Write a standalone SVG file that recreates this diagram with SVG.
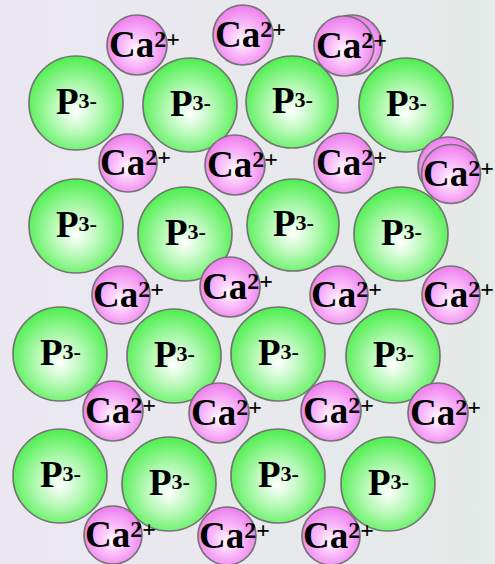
<svg xmlns="http://www.w3.org/2000/svg" width="495" height="564" viewBox="0 0 495 564">
<defs>
<linearGradient id="bg" x1="0" y1="0" x2="1" y2="0">
<stop offset="0" stop-color="#ebe7f1"/>
<stop offset="1" stop-color="#e4eae8"/>
</linearGradient>
<radialGradient id="gP" cx="0.5" cy="0.55" r="0.55" fx="0.5" fy="0.6">
<stop offset="0" stop-color="#ffffff"/>
<stop offset="0.45" stop-color="#b6f9b6"/>
<stop offset="1" stop-color="#4def4d"/>
</radialGradient>
<radialGradient id="gC" cx="0.5" cy="0.55" r="0.55" fx="0.5" fy="0.6">
<stop offset="0" stop-color="#ffffff"/>
<stop offset="0.4" stop-color="#fbc4fb"/>
<stop offset="1" stop-color="#ee7cee"/>
</radialGradient>
</defs>
<style>
.p circle{fill:url(#gP);stroke:#747474;stroke-width:1.7}
.c circle{fill:url(#gC);stroke:#747474;stroke-width:1.7}
text{font-family:"Liberation Serif","Times New Roman",serif;font-weight:bold;fill:#000}
.p text{font-size:37px}
.c text{font-size:37px}
.p tspan{font-size:22px}
.c tspan{font-size:24px}
</style>
<rect width="495" height="564" fill="url(#bg)"/>

<g id="p1" class="p"><circle cx="76" cy="103" r="47"/><text x="56" y="114">P<tspan dy="-6">3-</tspan></text></g>
<g id="p2" class="p"><circle cx="190" cy="105" r="47"/><text x="170" y="116">P<tspan dy="-6">3-</tspan></text></g>
<g id="p3" class="p"><circle cx="292" cy="102" r="46"/><text x="272" y="113">P<tspan dy="-6">3-</tspan></text></g>
<g id="p4" class="p"><circle cx="406" cy="105" r="47"/><text x="386" y="116">P<tspan dy="-6">3-</tspan></text></g>

<g id="p5" class="p"><circle cx="76" cy="226" r="47"/><text x="56" y="237">P<tspan dy="-6">3-</tspan></text></g>
<g id="p6" class="p"><circle cx="185" cy="234" r="47"/><text x="165" y="245">P<tspan dy="-6">3-</tspan></text></g>
<g id="p7" class="p"><circle cx="293" cy="225" r="46"/><text x="273" y="236">P<tspan dy="-6">3-</tspan></text></g>
<g id="p8" class="p"><circle cx="401" cy="234" r="47"/><text x="381" y="245">P<tspan dy="-6">3-</tspan></text></g>

<g id="p9" class="p"><circle cx="60" cy="354" r="47"/><text x="40" y="365">P<tspan dy="-6">3-</tspan></text></g>
<g id="p10" class="p"><circle cx="174" cy="356" r="47"/><text x="154" y="367">P<tspan dy="-6">3-</tspan></text></g>
<g id="p11" class="p"><circle cx="278" cy="354" r="47"/><text x="258" y="365">P<tspan dy="-6">3-</tspan></text></g>
<g id="p12" class="p"><circle cx="393" cy="356" r="47"/><text x="373" y="367">P<tspan dy="-6">3-</tspan></text></g>

<g id="p13" class="p"><circle cx="60" cy="476" r="47"/><text x="40" y="487">P<tspan dy="-6">3-</tspan></text></g>
<g id="p14" class="p"><circle cx="169" cy="484" r="47"/><text x="149" y="495">P<tspan dy="-6">3-</tspan></text></g>
<g id="p15" class="p"><circle cx="278" cy="476" r="47"/><text x="258" y="487">P<tspan dy="-6">3-</tspan></text></g>
<g id="p16" class="p"><circle cx="388" cy="484" r="47"/><text x="368" y="495">P<tspan dy="-6">3-</tspan></text></g>

<g id="ca1" class="c"><circle cx="137" cy="45" r="30"/><text x="109" y="57">Ca<tspan dy="-10">2+</tspan></text></g>
<g id="ca2" class="c"><circle cx="243" cy="35" r="30"/><text x="215" y="47">Ca<tspan dy="-10">2+</tspan></text></g>
<g id="ca3" class="c"><circle cx="352" cy="45" r="30"/><circle cx="344" cy="46" r="30"/><text x="316" y="58">Ca<tspan dy="-10">2+</tspan></text></g>

<g id="ca4" class="c"><circle cx="128" cy="163" r="29"/><text x="100" y="175">Ca<tspan dy="-10">2+</tspan></text></g>
<g id="ca5" class="c"><circle cx="235" cy="165" r="30"/><text x="207" y="177">Ca<tspan dy="-10">2+</tspan></text></g>
<g id="ca6" class="c"><circle cx="344" cy="163" r="30"/><text x="316" y="175">Ca<tspan dy="-10">2+</tspan></text></g>
<g id="ca7" class="c"><circle cx="448" cy="167" r="30"/><circle cx="451" cy="174" r="29.5"/><text x="423" y="186">Ca<tspan dy="-10">2+</tspan></text></g>

<g id="ca8" class="c"><circle cx="121" cy="295" r="29"/><text x="93" y="307">Ca<tspan dy="-10">2+</tspan></text></g>
<g id="ca9" class="c"><circle cx="230" cy="287" r="30"/><text x="202" y="299">Ca<tspan dy="-10">2+</tspan></text></g>
<g id="ca10" class="c"><circle cx="339" cy="295" r="29"/><text x="311" y="307">Ca<tspan dy="-10">2+</tspan></text></g>
<g id="ca11" class="c"><circle cx="451" cy="295" r="29"/><text x="423" y="307">Ca<tspan dy="-10">2+</tspan></text></g>

<g id="ca12" class="c"><circle cx="113" cy="411" r="30"/><text x="85" y="423">Ca<tspan dy="-10">2+</tspan></text></g>
<g id="ca13" class="c"><circle cx="219" cy="413" r="30"/><text x="191" y="425">Ca<tspan dy="-10">2+</tspan></text></g>
<g id="ca14" class="c"><circle cx="331" cy="411" r="30"/><text x="303" y="423">Ca<tspan dy="-10">2+</tspan></text></g>
<g id="ca15" class="c"><circle cx="438" cy="413" r="30"/><text x="410" y="425">Ca<tspan dy="-10">2+</tspan></text></g>

<g id="ca16" class="c"><circle cx="113" cy="535" r="29"/><text x="85" y="547">Ca<tspan dy="-10">2+</tspan></text></g>
<g id="ca17" class="c"><circle cx="227" cy="536" r="29"/><text x="199" y="548">Ca<tspan dy="-10">2+</tspan></text></g>
<g id="ca18" class="c"><circle cx="331" cy="536" r="29"/><text x="303" y="548">Ca<tspan dy="-10">2+</tspan></text></g>
</svg>
